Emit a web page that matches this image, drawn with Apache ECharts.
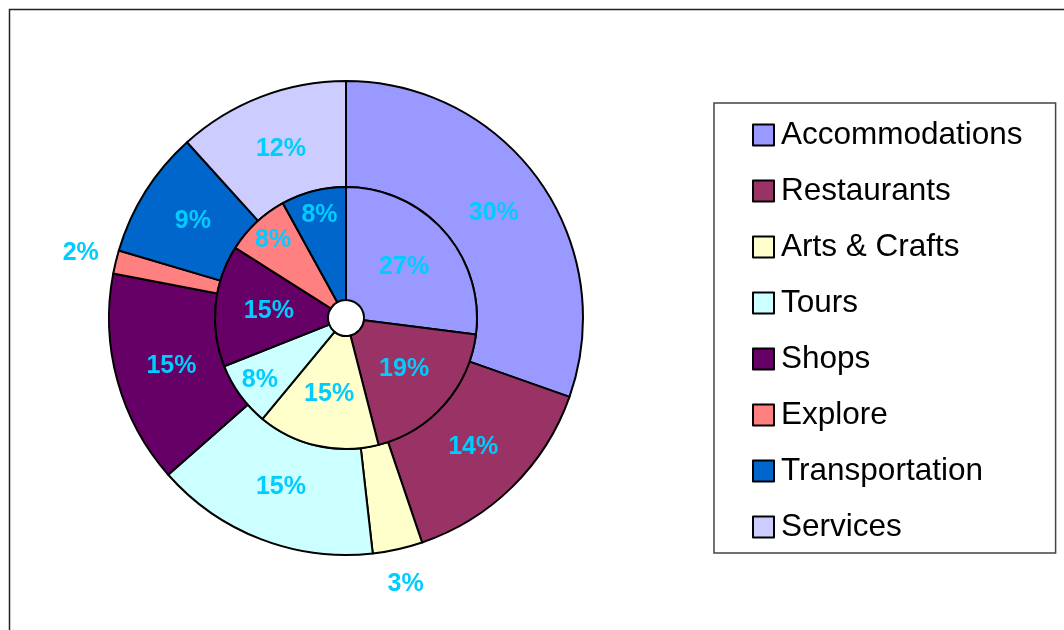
<!DOCTYPE html>
<html>
<head>
<meta charset="utf-8">
<script src="https://cdn.jsdelivr.net/npm/echarts@6/dist/echarts.min.js"></script>
<style>html,body{margin:0;padding:0;background:#fff}#c{width:1064px;height:630px}</style>
</head>
<body>
<div id="c"></div>
<script>
const categories = ['Accommodations','Restaurants','Arts & Crafts','Tours','Shops','Explore','Transportation','Services'];
const colors = ['#9999FF','#993366','#FFFFCC','#CCFFFF','#660066','#FF8080','#0066CC','#CCCCFF'];
// outer ring shares (percent); labels show them rounded
const outerValues = [30.4, 14.4, 3.4, 15.3, 14.5, 1.6, 8.7, 11.7];
const innerValues = [27, 19, 15, 8, 15, 8, 8, 0];
const SMALL_OUTER = 5;
const SMALL_INNER = 10;

const labelFont = {color:'#00CCFF', fontFamily:'Liberation Sans, Arial, sans-serif', fontWeight:'bold', fontSize:25};
const center = [346, 318];
const pct = p => Math.round(p.value) + '%';

const outerData = categories.map((n,i)=>({name:n, value:outerValues[i], itemStyle:{color:colors[i]}}));
const innerData = categories.map((n,i)=>({name:n, value:innerValues[i], itemStyle:{color:colors[i]},
  label:{show: innerValues[i] >= SMALL_INNER}}));
const outerBigLabelData = categories.map((n,i)=>({name:n, value:outerValues[i],
  label:{show: outerValues[i] >= SMALL_OUTER}}));
const outerSmallLabelData = categories.map((n,i)=>({name:n, value:outerValues[i],
  label:{show: outerValues[i] < SMALL_OUTER}}));
const innerSmallLabelData = categories.map((n,i)=>({name:n, value:innerValues[i],
  label:{show: innerValues[i] > 0 && innerValues[i] < SMALL_INNER}}));

function labelRing(name, radius, data){
  return {type:'pie', name:name, center:center, radius:radius, startAngle:90, clockwise:true,
    avoidLabelOverlap:false, silent:true, z:5,
    itemStyle:{color:'rgba(0,0,0,0)', borderWidth:0},
    label:Object.assign({position:'inside', formatter:pct}, labelFont),
    labelLine:{show:false}, emphasis:{disabled:true}, labelLayout:{hideOverlap:false},
    data:data};
}

const chart = echarts.init(document.getElementById('c'), null, {renderer:'canvas'});
chart.setOption({
  animation:false,
  backgroundColor:'#fff',
  graphic:[{type:'rect', shape:{x:9.5,y:9.5,width:1200,height:800}, style:{fill:'none', stroke:'#222', lineWidth:1.5}, silent:true, z:-1}],
  legend:{
    orient:'vertical', left:714, top:103,
    data:categories,
    padding:[16,33,10,38],
    itemGap:24, itemWidth:21, itemHeight:21,
    icon:'rect',
    borderColor:'#444', borderWidth:1.5, backgroundColor:'#fff',
    itemStyle:{borderColor:'#000', borderWidth:2},
    textStyle:{fontFamily:'Liberation Sans, Arial, sans-serif', fontSize:31.5, color:'#000', lineHeight:31, padding:[0,0,0,2]},
    selectedMode:false
  },
  series:[
    {type:'pie', name:'outer', center:center, radius:[131,237], startAngle:90, clockwise:true,
     avoidLabelOverlap:false, silent:true,
     itemStyle:{borderColor:'#000', borderWidth:2},
     label:{show:false}, labelLine:{show:false},
     data:outerData},
    {type:'pie', name:'inner', center:center, radius:[18,131], startAngle:90, clockwise:true,
     avoidLabelOverlap:false, silent:true,
     itemStyle:{borderColor:'#000', borderWidth:2},
     label:Object.assign({position:'inside', formatter:pct}, labelFont),
     labelLine:{show:false}, labelLayout:{hideOverlap:false},
     data:innerData},
    labelRing('outerBigLabels', [125,231], outerBigLabelData),
    labelRing('outerSmallLabels', [237,303], outerSmallLabelData),
    labelRing('innerSmallLabels', [76,131], innerSmallLabelData)
  ]
});
</script>
</body>
</html>
